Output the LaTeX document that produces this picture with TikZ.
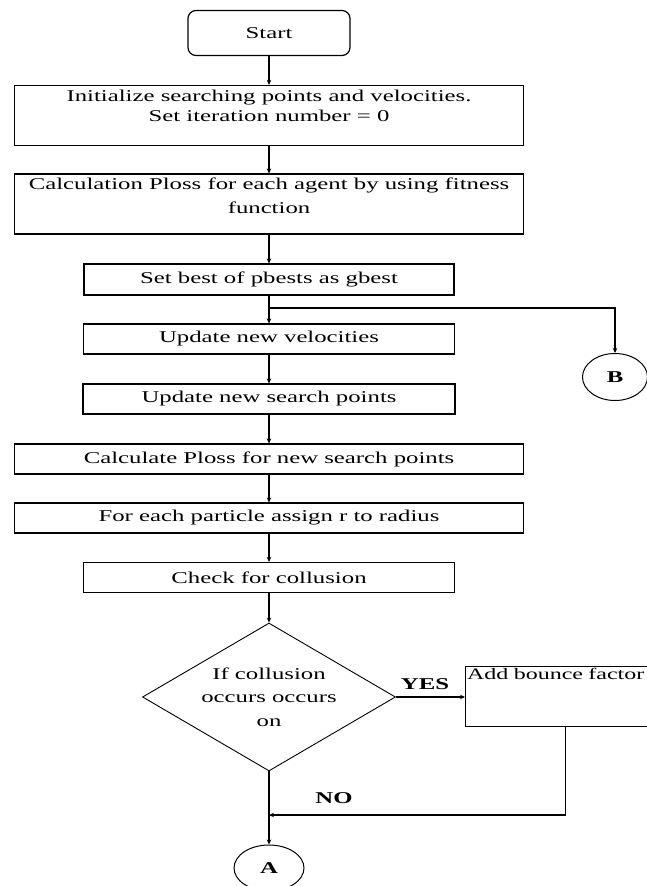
\documentclass[tikz,border=0pt]{standalone}
\usepackage{fontspec}
\setmainfont{Liberation Serif}[FakeStretch=1.5]
\usepackage{tikz}
\usetikzlibrary{positioning, arrows.meta, shapes.geometric, calc}

\tikzset{
  flowtext/.style={font=\fontsize{16.5}{20}\selectfont},
  boldtext/.style={font=\fontsize{16.5}{20}\selectfont\bfseries},
  procbox/.style={draw, line width=1.2pt, rectangle, align=center, inner sep=1pt, flowtext},
  startbox/.style={procbox, rounded corners=8pt},
  decbox/.style={draw, line width=0.9pt, diamond, aspect=1.69, inner sep=0pt, align=center, flowtext},
  connbox/.style={draw, line width=1pt, ellipse, inner sep=0pt, boldtext},
  arr/.style={line width=1.2pt, -{Stealth[length=5pt,width=4.5pt]}},
  ln/.style={line width=1.2pt}
}

\begin{document}
\begin{tikzpicture}[x=1pt, y=-1pt]
    \useasboundingbox (0,0) rectangle (647,886);
    \clip (0,0) rectangle (647,886);
    % Main line of steps
    \node[startbox, minimum width=162, minimum height=45] (start) at (269,33) {Start};
    \node[procbox, minimum width=509, minimum height=60] (init) at (269,115.5)
        {Initialize searching points and velocities.\\Set iteration number = 0\\[-6pt]\strut};
    \node[procbox, minimum width=509, minimum height=60] (ploss) at (269,204)
        {Calculation Ploss for each agent by using fitness\\[4pt]function\\[-10pt]\strut};
    \node[procbox, minimum width=370, minimum height=31] (setbest) at (269,279.5) {Set best of pbests as gbest};
    \node[procbox, minimum width=371, minimum height=30] (updvel) at (269,339) {Update new velocities};
    \node[procbox, minimum width=372, minimum height=30] (updpts) at (269,399) {Update new search points};
    \node[procbox, minimum width=509, minimum height=30] (newploss) at (269,459) {Calculate Ploss for new search points};
    \node[procbox, minimum width=509, minimum height=30] (radius) at (269,518) {For each particle assign r to radius};
    \node[procbox, minimum width=371, minimum height=30] (check) at (269,577.5) {Check for collusion};
    % Decision
    \node[decbox, minimum width=253, minimum height=148] (ifcol) at (269,697)
        {If collusion\\[3.5pt]occurs occurs\\[3.5pt]on};
    \node[procbox, anchor=north west, text width=196, align=left, inner sep=1.5pt, minimum height=60,
          font=\fontsize{16}{20}\selectfont] (bounce) at (465,666)
        {Add bounce factor\\\strut\\\strut};
    % Off-page connectors
    \node[connbox, minimum width=65, minimum height=47] (conB) at (615,377) {B};
    \node[connbox, minimum width=70, minimum height=46] (conA) at (269,868) {A};
    \coordinate (br) at (269,308);
    \coordinate (mrg) at (269,815);
    % Connectors
    \draw[arr] (start) -- (init);
    \draw[arr] (init) -- (ploss);
    \draw[arr] (ploss) -- (setbest);
    \draw[ln] (setbest) -- (br);
    \draw[arr] (br) -- (updvel);
    \draw[arr] (br) -| (conB);
    \draw[arr] (updvel) -- (updpts);
    \draw[arr] (updpts) -- (newploss);
    \draw[arr] (newploss) -- (radius);
    \draw[arr] (radius) -- (check);
    \draw[arr] (check) -- (ifcol);
    \draw[arr] (ifcol.east) -- (ifcol.east -| bounce.west);
    \draw[arr] (bounce.south) |- (mrg);
    \draw[arr] (ifcol) -- (conA);
    % Branch labels
    \node[boldtext] (yes) at (425,684) {YES};
    \node[boldtext] (no) at (334,798) {NO};
\end{tikzpicture}
\end{document}
